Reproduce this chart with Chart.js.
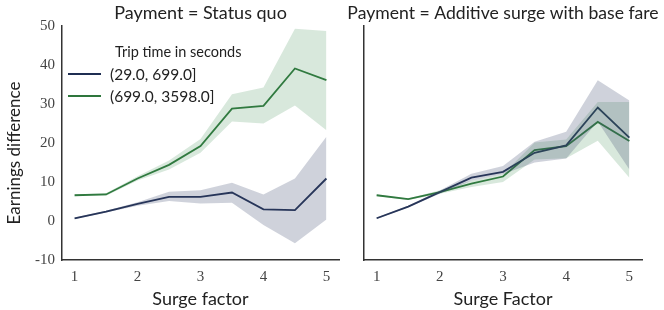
<!DOCTYPE html>
<html>
<head>
<meta charset="utf-8">
<script src="https://cdn.jsdelivr.net/npm/chart.js@4.4.0/dist/chart.umd.min.js"></script>
<style>
  body { margin: 0; background: #fff; }
  #wrap { position: relative; width: 664px; height: 310px; }
  .panel { position: absolute; top: 0; height: 310px; }
</style>
</head>
<body>
<div id="wrap">
  <div class="panel" style="left:0;width:342px"><canvas id="left" width="342" height="310"></canvas></div>
  <div class="panel" style="left:342px;width:322px"><canvas id="right" width="322" height="310"></canvas></div>
</div>
<script>
// surge levels
var surge = [1, 1.5, 2, 2.5, 3, 3.5, 4, 4.5, 5];
var xTicks = [1, 2, 3, 4, 5];
var yTicks = [-10, 0, 10, 20, 30, 40, 50];
var seriesNames = ['(29.0, 699.0]', '(699.0, 3598.0]'];

// Payment = Status quo
var sqShort = [0.7, 2.4, 4.4, 6.2, 6.2, 7.3, 3.0, 2.8, 10.9];
var sqShortHi = [0.9, 2.6, 4.8, 7.5, 7.9, 9.8, 6.8, 10.9, 21.6];
var sqShortLo = [0.5, 2.2, 3.9, 5.1, 4.5, 4.7, -1.0, -5.7, 0.4];
var sqLong = [6.6, 6.8, 10.9, 14.4, 19.2, 28.8, 29.5, 39.1, 36.1];
var sqLongHi = [6.8, 7.1, 11.5, 15.5, 21.0, 32.5, 34.2, 49.3, 48.7];
var sqLongLo = [6.4, 6.5, 10.4, 13.2, 17.5, 25.5, 25.0, 29.6, 23.3];

// Payment = Additive surge with base fare
var adShort = [0.7, 3.7, 7.4, 11.1, 12.6, 17.5, 19.4, 29.1, 21.4];
var adShortHi = [0.9, 3.9, 7.8, 12.1, 14.1, 20.3, 22.9, 36.1, 30.9];
var adShortLo = [0.5, 3.5, 7.0, 10.3, 12.0, 15.0, 16.0, 25.5, 13.2];
var adLong = [6.6, 5.6, 7.4, 9.6, 11.4, 18.2, 19.2, 25.4, 20.5];
var adLongHi = [6.8, 5.8, 7.9, 10.3, 12.0, 20.1, 20.9, 30.5, 30.5];
var adLongLo = [6.4, 5.4, 7.0, 8.7, 10.0, 15.8, 16.1, 20.6, 11.1];

var navy = 'rgb(31,46,82)';
var green = 'rgb(46,118,60)';
var navyBand = 'rgba(62,76,110,0.25)';
var greenBand = 'rgba(60,140,80,0.2)';

var sansFont = "Lato, 'Open Sans', sans-serif";
var serifFont = "'Liberation Serif', 'DejaVu Serif', serif";

function pts(ys) {
  return ys.map(function(v, i) { return { x: surge[i], y: v }; });
}

function datasets(shortY, shortHi, shortLo, longY, longHi, longLo) {
  var band = { pointRadius: 0, borderWidth: 0, tension: 0 };
  return [
    Object.assign({ data: pts(shortHi), fill: '+1', backgroundColor: navyBand }, band),
    Object.assign({ data: pts(shortLo), fill: false }, band),
    Object.assign({ data: pts(longHi), fill: '+1', backgroundColor: greenBand }, band),
    Object.assign({ data: pts(longLo), fill: false }, band),
    { label: seriesNames[0], data: pts(shortY), borderColor: navy, borderWidth: 1.8, pointRadius: 0, fill: false, tension: 0 },
    { label: seriesNames[1], data: pts(longY), borderColor: green, borderWidth: 1.8, pointRadius: 0, fill: false, tension: 0 }
  ];
}

// panel title centred over the plot area, y title and legend on the left panel
var panelDecor = {
  id: 'panelDecor',
  afterDraw: function(chart, args, opts) {
    var ctx = chart.ctx, a = chart.chartArea;
    ctx.save();
    ctx.textBaseline = 'middle';
    ctx.textAlign = 'center';
    ctx.fillStyle = '#222';
    ctx.font = opts.titleSize + 'px ' + sansFont;
    ctx.fillText(opts.title, (a.left + a.right) / 2, 13);
    if (opts.legend) {
      ctx.save();
      ctx.translate(15, 153);
      ctx.rotate(-Math.PI / 2);
      ctx.font = '17px ' + sansFont;
      ctx.fillText('Earnings difference', 0, 0);
      ctx.restore();

      ctx.textAlign = 'left';
      ctx.font = '14.5px ' + sansFont;
      ctx.fillText('Trip time in seconds', a.left + 53, a.top + 26);
      var cols = [navy, green];
      ctx.font = '15.5px ' + sansFont;
      for (var i = 0; i < seriesNames.length; i++) {
        var y = a.top + 48 + i * 22;
        ctx.strokeStyle = cols[i];
        ctx.lineWidth = 1.8;
        ctx.beginPath();
        ctx.moveTo(a.left + 6, y);
        ctx.lineTo(a.left + 39, y);
        ctx.stroke();
        ctx.fillStyle = '#222';
        ctx.fillText(seriesNames[i], a.left + 48, y + 1);
      }
    }
    ctx.restore();
  }
};

function makeChart(id, title, titleSize, xTitle, showY, ds, padRight, yWidth) {
  return new Chart(document.getElementById(id), {
    type: 'line',
    data: { datasets: ds },
    plugins: [panelDecor],
    options: {
      responsive: false,
      animation: false,
      layout: { padding: { right: padRight, top: 26, bottom: 0, left: 0 } },
      plugins: {
        legend: { display: false },
        tooltip: { enabled: false },
        panelDecor: { title: title, titleSize: titleSize, legend: showY }
      },
      scales: {
        x: {
          type: 'linear', min: 0.8, max: 5.2,
          afterBuildTicks: function(s) { s.ticks = xTicks.map(function(v) { return { value: v }; }); },
          afterFit: function(s) { s.height = 50; },
          grid: { display: false, drawTicks: false },
          border: { display: true, color: '#333', width: 1.5 },
          ticks: { color: '#444', padding: 8, font: { family: serifFont, size: 15 } },
          title: { display: true, text: xTitle, color: '#222', padding: { top: 1, bottom: 0 },
                   font: { family: sansFont, size: 18 } }
        },
        y: {
          min: -10, max: 50,
          afterBuildTicks: function(s) { s.ticks = yTicks.map(function(v) { return { value: v }; }); },
          afterFit: function(s) { s.width = yWidth; },
          grid: { display: false, drawTicks: false },
          border: { display: true, color: '#333', width: 1.5 },
          ticks: { display: showY, color: '#444', padding: 7, font: { family: serifFont, size: 15 } }
        }
      }
    }
  });
}

makeChart('left', 'Payment = Status quo', 18, 'Surge factor', true,
  datasets(sqShort, sqShortHi, sqShortLo, sqLong, sqLongHi, sqLongLo), 3, 62);
makeChart('right', 'Payment = Additive surge with base fare', 17.6, 'Surge Factor', false,
  datasets(adShort, adShortHi, adShortLo, adLong, adLongHi, adLongLo), 22, 22);
</script>
</body>
</html>
